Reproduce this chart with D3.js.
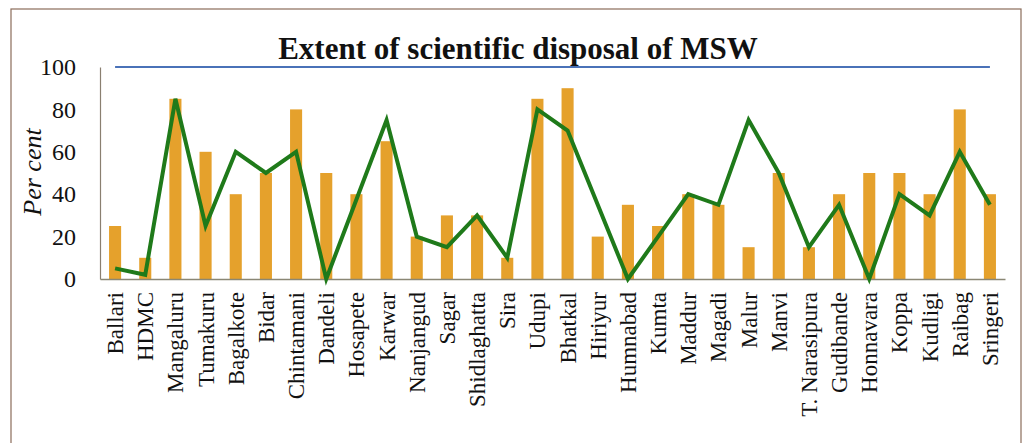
<!DOCTYPE html>
<html>
<head>
<meta charset="utf-8">
<script src="https://cdn.jsdelivr.net/npm/d3@7"></script>
<style>
  html, body { margin: 0; padding: 0; background: #fff; }
  svg { display: block; }
  svg text { font-family: 'Liberation Serif', 'DejaVu Serif', 'Times New Roman', Times, serif !important; fill: #111; }
</style>
</head>
<body>
<svg id="chart" width="1026" height="443"></svg>
<script>
const categories = ["Ballari","HDMC","Mangaluru","Tumakuru","Bagalkote","Bidar","Chintamani","Dandeli","Hosapete","Karwar","Nanjangud","Sagar","Shidlaghatta","Sira","Udupi","Bhatkal","Hiriyur","Humnabad","Kumta","Maddur","Magadi","Malur","Manvi","T. Narasipura","Gudibande","Honnavara","Koppa","Kudligi","Raibag","Sringeri"];
const barValues = [25,10,85,60,40,50,80,50,40,65,20,30,30,10,85,90,20,35,25,40,35,15,50,15,40,50,50,40,80,40];
const lineValues = [5,2,85,25,60,50,60,0,37.5,75,20,15,30,10,80,70,35,0,20,40,35,75,50,15,35,0,40,30,60,35];
const targetValues = categories.map(() => 100);
const yTicks = [0,20,40,60,80,100];
const titleText = "Extent of scientific disposal of MSW";
const yLabel = "Per cent";

const serif = "'Liberation Serif', 'DejaVu Serif', serif";
const svg = d3.select("#chart");

// frame
svg.append("rect")
  .attr("x", 11).attr("y", 9).attr("width", 1010).attr("height", 460)
  .attr("fill", "none").attr("stroke", "#8b6d5a").attr("stroke-width", 1.2);

const x = d3.scaleBand().domain(categories).range([100, 1005]).paddingInner(0.6).paddingOuter(0.3);
const y = d3.scaleLinear().domain([0, 100]).range([279, 67]);

// title
svg.append("text")
  .attr("x", 518).attr("y", 59)
  .attr("text-anchor", "middle")
  .attr("font-family", serif)
  .style("font-size", "31px").style("font-weight", "bold")
  .text(titleText);

// y axis
const yAxis = d3.axisLeft(y).tickValues(yTicks).tickSize(0).tickPadding(24);
const gy = svg.append("g").attr("transform", "translate(100,0)").call(yAxis)
  .attr("font-family", serif);
gy.select(".domain").attr("stroke", "#8a7f70").attr("stroke-width", 1.2);
gy.selectAll("text").style("font-size", "24px").attr("fill", "#111");

// y label
svg.append("text")
  .attr("transform", "translate(41,172) rotate(-90)")
  .attr("text-anchor", "middle")
  .attr("font-family", serif)
  .style("font-size", "26px").style("font-style", "italic")
  .text(yLabel);

// bars
svg.append("g").selectAll("rect").data(barValues).join("rect")
  .attr("x", (d, i) => x(categories[i]))
  .attr("width", x.bandwidth())
  .attr("y", d => y(d))
  .attr("height", d => y(0) - y(d))
  .attr("fill", "#e5a12c");

// x axis
const xAxis = d3.axisBottom(x).tickSize(0).tickPadding(13);
const gx = svg.append("g").attr("transform", "translate(0,279)").call(xAxis)
  .attr("font-family", serif);
gx.select(".domain").attr("stroke", "#8a8775").attr("stroke-width", 1.5);
gx.selectAll("text")
  .style("font-size", "23px").attr("fill", "#111")
  .attr("transform", "rotate(-90)")
  .attr("text-anchor", "end")
  .attr("dy", "0.35em")
  .attr("x", -13)
  .attr("y", 0);

const cx = (i) => x(categories[i]) + x.bandwidth() / 2;

// target line
svg.append("path")
  .datum(targetValues)
  .attr("fill", "none").attr("stroke", "#4a72b8").attr("stroke-width", 2.2)
  .attr("d", d3.line().x((d, i) => cx(i)).y(d => y(d)));

// green line
svg.append("path")
  .datum(lineValues)
  .attr("fill", "none").attr("stroke", "#1f7a1a").attr("stroke-width", 4)
  .attr("stroke-linejoin", "miter")
  .attr("d", d3.line().x((d, i) => cx(i)).y(d => y(d)));
</script>
</body>
</html>
